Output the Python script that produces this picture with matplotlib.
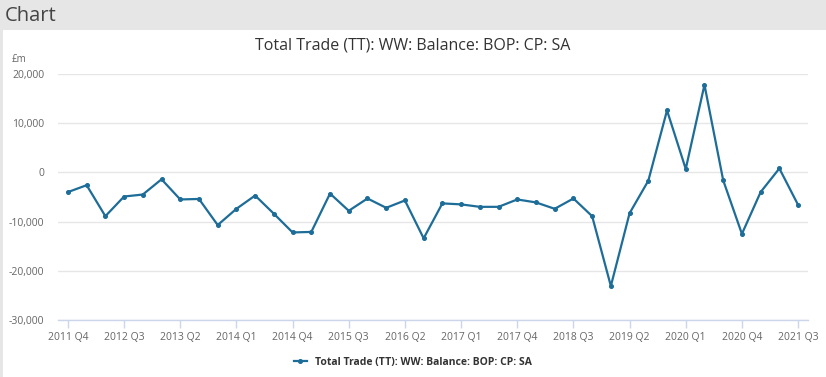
import matplotlib
matplotlib.use("Agg")
import matplotlib.pyplot as plt
from matplotlib.patches import Rectangle

plt.rcParams['font.family'] = ['Open Sans', 'DejaVu Sans']

quarters = [f"{y} Q{q}" for y in range(2011, 2022) for q in range(1, 5)]
quarters = quarters[quarters.index("2011 Q4"):quarters.index("2021 Q3") + 1]

values = [-4000, -2600, -8900, -4900, -4500, -1400, -5500, -5400, -10700, -7400,
          -4700, -8400, -12200, -12100, -4300, -7800, -5300, -7200, -5700, -13400,
          -6300, -6500, -7000, -7000, -5500, -6100, -7400, -5300, -8900, -23100,
          -8300, -1700, 12600, 700, 17800, -1600, -12500, -4000, 800, -6600]

tick_labels = quarters[::3]
yticks = [-30000, -20000, -10000, 0, 10000, 20000]
series_name = "Total Trade (TT): WW: Balance: BOP: CP: SA"
line_color = "#1d6d98"

W, H = 826, 377
fig = plt.figure(figsize=(W / 100, H / 100), dpi=100)
fig.patch.set_facecolor("white")

# header band and left border
fig.add_artist(Rectangle((0, 1 - 30 / H), 1, 30 / H, transform=fig.transFigure,
                         facecolor="#e6e6e6", edgecolor="none", zorder=0))
fig.add_artist(Rectangle((0, 0), 3 / W, 1, transform=fig.transFigure,
                         facecolor="#e6e6e6", edgecolor="none", zorder=0))
fig.text(5 / W, 1 - 16 / H, "Chart", fontsize=14.5, color="#444444",
         ha="left", va="center")

ax = fig.add_axes([58 / W, 1 - 320 / H, 750 / W, 246 / H])
x = list(range(len(values)))
ax.plot(x, values, color=line_color, lw=1.6, marker="o", markersize=2.6,
        zorder=3, label=series_name)

ax.set_xlim(-0.53, len(values) - 1 + 0.53)
ax.set_ylim(-30000, 20000)
ax.set_yticks(yticks)
ax.set_yticklabels([f"{v:,}" for v in yticks])
ax.set_xticks(x[::3])
ax.set_xticklabels(tick_labels)

ax.grid(axis="y", color="#e6e6e6", lw=1)
ax.set_axisbelow(True)
for s in ["top", "right", "left"]:
    ax.spines[s].set_visible(False)
ax.spines["bottom"].set_color("#ccd6eb")
ax.spines["bottom"].set_linewidth(1)
ax.tick_params(axis="y", length=0, pad=10, labelsize=7.5, labelcolor="#666666")
ax.tick_params(axis="x", length=6, width=1, color="#ccd6eb", pad=3,
               labelsize=7.5, labelcolor="#666666")

fig.text(413 / W, 1 - 45 / H, series_name, fontsize=11.5, color="#333333",
         ha="center", va="center")
fig.text(12 / W, 1 - 60 / H, "£m", fontsize=7, color="#666666",
         ha="left", va="center")

leg = fig.legend(loc="center", bbox_to_anchor=(413 / W, 1 - 362 / H),
                 frameon=False, fontsize=7.5, handlelength=1.2,
                 prop={"weight": "bold", "size": 7.5})
for t in leg.get_texts():
    t.set_color("#333333")

fig.savefig("out.png", dpi=100)
